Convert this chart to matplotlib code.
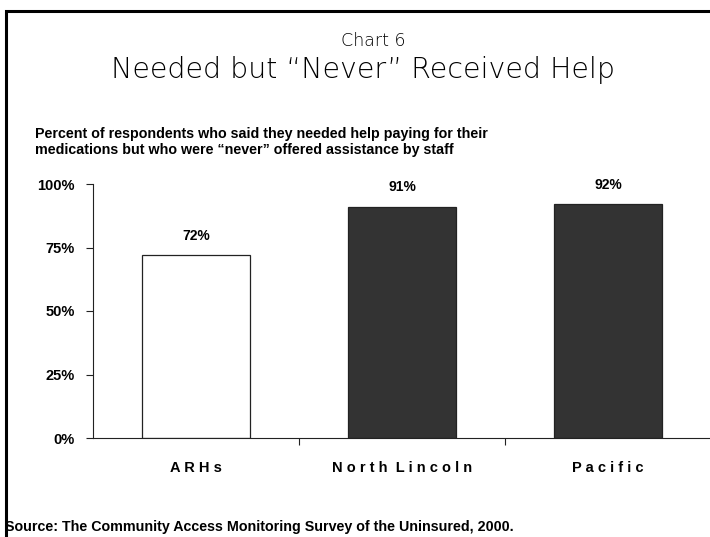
import matplotlib.pyplot as plt
from matplotlib.patches import Rectangle

categories = ['ARHs', 'North Lincoln', 'Pacific']
values = [72, 91, 92]
bar_colors = ['white', '#333333', '#333333']
yticks = [0, 25, 50, 75, 100]

plt.rcParams['font.family'] = ['Liberation Sans', 'DejaVu Sans']

fig = plt.figure(figsize=(7.1, 5.37), dpi=100)

# frame around the slide (only top and left visible)
fig.add_artist(Rectangle((6 / 710, -0.1), 1.2, 1.1 - 11 / 537, transform=fig.transFigure,
                         fill=False, edgecolor='black', linewidth=2.2))

fig.text(373 / 710, 1 - 46 / 537, 'Chart 6', ha='center', va='baseline', fontsize=12.5,
         family=['DejaVu Sans'], fontweight='light', color='black')
fig.text(363 / 710, 1 - 78 / 537, 'Needed but \u201cNever\u201d Received Help', ha='center', va='baseline',
         fontsize=20.5, family=['DejaVu Sans'], fontweight='light', color='black')
fig.text(35 / 710, 1 - 142 / 537,
         'Percent of respondents who said they needed help paying for their\n'
         'medications but who were \u201cnever\u201d offered assistance by staff',
         ha='left', va='center', fontsize=10.3, fontweight='bold', linespacing=1.15)
fig.text(5 / 710, 1 - 527 / 537, 'Source: The Community Access Monitoring Survey of the Uninsured, 2000.',
         ha='left', va='center', fontsize=10.3, fontweight='bold')

ax = fig.add_axes([93 / 710, 99 / 537, 618 / 710, 254 / 537])
x = range(len(categories))
bars = ax.bar(x, values, width=0.52, color=bar_colors, edgecolor='#222222', linewidth=0.9)
for b, v in zip(bars, values):
    ax.annotate(f'{v}%', (b.get_x() + b.get_width() / 2, v), xytext=(0, 9),
                textcoords='offset points', ha='center', va='bottom',
                fontsize=10, fontweight='bold')

ax.set_xlim(-0.5, 2.5)
ax.set_ylim(0, 100)
ax.set_yticks(yticks)
ax.set_yticklabels([f'{t}%' for t in yticks], fontsize=10.5, fontweight='bold')
ax.set_xticks([0.5, 1.5])
ax.set_xticklabels([])
ax.tick_params(axis='both', direction='out', length=5, width=0.8, color='#222222')
ax.tick_params(axis='y', pad=8)
for i, c in enumerate(categories):
    ax.text(i, -0.09, ' '.join(c).replace('   ', '  '), transform=ax.get_xaxis_transform(),
            ha='center', va='top', fontsize=10.5, fontweight='bold')

ax.spines['top'].set_visible(False)
ax.spines['right'].set_visible(False)
ax.spines['left'].set_color('#222222')
ax.spines['bottom'].set_color('#222222')

fig.savefig('out.png', dpi=100)
